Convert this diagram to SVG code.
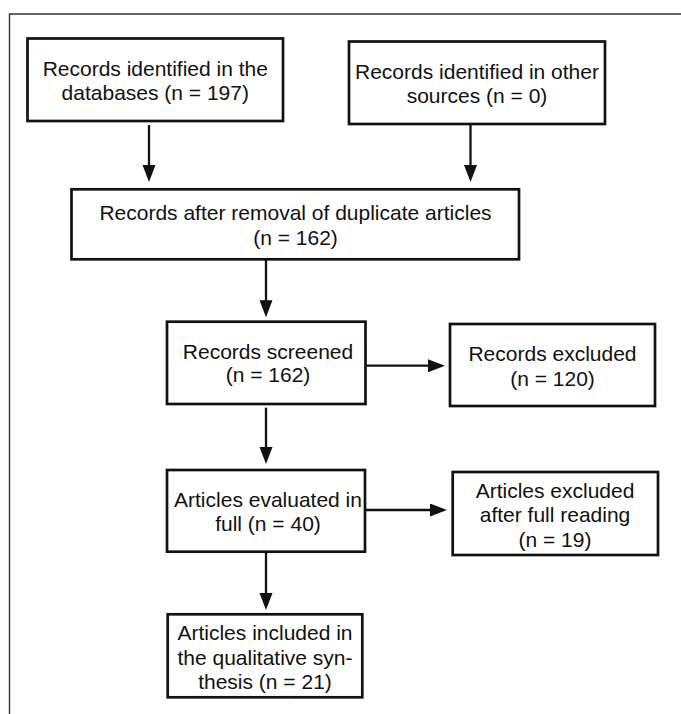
<svg xmlns="http://www.w3.org/2000/svg" width="681" height="714" viewBox="0 0 681 714">
<defs>
<style>
.frame{fill:none;stroke:#333;stroke-width:1.4}
.box rect{fill:#fff;stroke:#111;stroke-width:2.7}
.box text{font-family:"Liberation Sans",Arial,Helvetica,sans-serif;font-size:21px;fill:#111;text-anchor:middle}
.conn line{stroke:#111;stroke-width:2.3;fill:none;marker-end:url(#ah)}
</style>
<marker id="ah" markerWidth="18" markerHeight="14" refX="9" refY="6.5" orient="auto" markerUnits="userSpaceOnUse">
<path d="M0,0 L17,6.5 L0,13 z" fill="#111"/>
</marker>
</defs>
<rect width="681" height="714" fill="#fff"/>
<path class="frame" d="M9.5,714 V14 H681"/>
<g id="connectors" class="conn">
<line x1="149" y1="125" x2="149" y2="174"/>
<line x1="470.5" y1="124" x2="470.5" y2="174"/>
<line x1="266" y1="260" x2="266" y2="309.3"/>
<line x1="365.7" y1="365.7" x2="437" y2="365.7"/>
<line x1="266" y1="407.7" x2="266" y2="456"/>
<line x1="365.5" y1="510" x2="439" y2="510"/>
<line x1="266" y1="553" x2="266" y2="602"/>
</g>
<g id="n1" class="box">
<rect x="27.5" y="38.5" width="255.5" height="82.5"/>
<text x="155.3" y="76">Records identified in the</text>
<text x="155.3" y="100">databases (n = 197)</text>
</g>
<g id="n2" class="box">
<rect x="349" y="41.5" width="256" height="82.5"/>
<text x="477" y="78.5">Records identified in other</text>
<text x="477" y="102.5">sources (n = 0)</text>
</g>
<g id="n3" class="box">
<rect x="71.5" y="189.3" width="447.5" height="70"/>
<text x="295.5" y="219.5">Records after removal of duplicate articles</text>
<text x="295.5" y="245">(n = 162)</text>
</g>
<g id="n4" class="box">
<rect x="167" y="321.7" width="198.5" height="82.3"/>
<text x="268" y="359">Records screened</text>
<text x="268" y="382">(n = 162)</text>
</g>
<g id="n5" class="box">
<rect x="450" y="324" width="205" height="82"/>
<text x="552.5" y="361">Records excluded</text>
<text x="552.5" y="385.5">(n = 120)</text>
</g>
<g id="n6" class="box">
<rect x="167" y="470" width="198" height="81.7"/>
<text x="268" y="506.7">Articles evaluated in</text>
<text x="268" y="530.7">full (n = 40)</text>
</g>
<g id="n7" class="box">
<rect x="452.7" y="472" width="205.3" height="83"/>
<text x="555" y="498.3">Articles excluded</text>
<text x="555" y="522.3">after full reading</text>
<text x="555" y="546.7">(n = 19)</text>
</g>
<g id="n8" class="box">
<rect x="167.7" y="614.3" width="194.6" height="83"/>
<text x="265" y="639.5">Articles included in</text>
<text x="265" y="664.5">the qualitative syn-</text>
<text x="265" y="689">thesis (n = 21)</text>
</g>
</svg>
